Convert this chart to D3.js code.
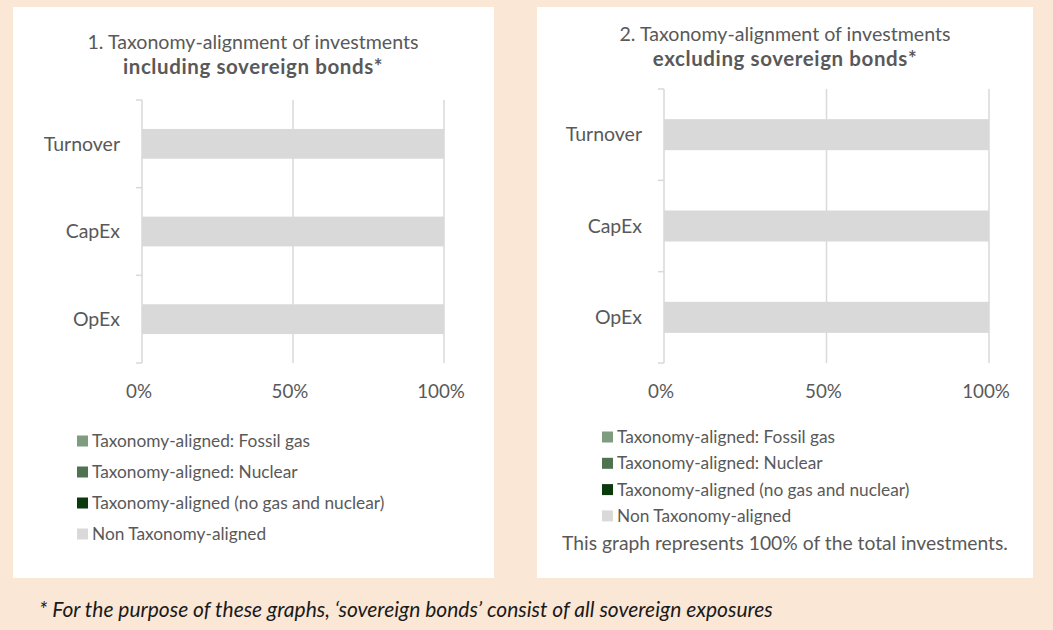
<!DOCTYPE html>
<html>
<head>
<meta charset="utf-8">
<script src="https://cdn.jsdelivr.net/npm/d3@7"></script>
<style>
  body { margin: 0; background: #fbe7d6; }
  svg { display: block; font-family: Lato, "Open Sans", sans-serif; }
</style>
</head>
<body>
<div id="chart"></div>
<script>
// categories and series (percent of investments)
const categories = ["Turnover", "CapEx", "OpEx"];
const seriesNames = ["Taxonomy-aligned (no gas and nuclear)", "Taxonomy-aligned: Fossil gas", "Taxonomy-aligned: Nuclear", "Non Taxonomy-aligned"];
const legendOrder = ["Taxonomy-aligned: Fossil gas", "Taxonomy-aligned: Nuclear", "Taxonomy-aligned (no gas and nuclear)", "Non Taxonomy-aligned"];
const colors = ["#0b3b0c", "#7f9b80", "#4f7351", "#d9d9d9"];

// chart 1: including sovereign bonds
const inclAligned = [0, 0, 0];
const inclFossil = [0, 0, 0];
const inclNuclear = [0, 0, 0];
const inclNon = [100, 100, 100];

// chart 2: excluding sovereign bonds
const exclAligned = [0, 0, 0];
const exclFossil = [0, 0, 0];
const exclNuclear = [0, 0, 0];
const exclNon = [100, 100, 100];

const xTicks = [0, 50, 100];

const W = 1053, H = 630;
const textColor = "#595959";
const gridColor = "#d9d9d9";

const svg = d3.select("#chart").append("svg")
    .attr("width", W)
    .attr("height", H);

svg.append("rect").attr("width", W).attr("height", H).attr("fill", "#fbe7d6");

const colorOf = d3.scaleOrdinal().domain(seriesNames).range(colors);

const buildRows = (aligned, fossil, nuclear, non) => categories.map((c, i) => ({
  cat: c,
  [seriesNames[0]]: aligned[i],
  [seriesNames[1]]: fossil[i],
  [seriesNames[2]]: nuclear[i],
  [seriesNames[3]]: non[i]
}));

const drawPanel = (opt) => {
  // white card
  svg.append("rect")
    .attr("x", opt.box[0]).attr("y", opt.box[1])
    .attr("width", opt.box[2]).attr("height", opt.box[3])
    .attr("fill", "#fff");

  // title
  const t = svg.append("text")
    .attr("text-anchor", "middle")
    .attr("fill", textColor)
    .attr("font-size", 19.6);
  t.append("tspan").attr("x", opt.titleX).attr("y", opt.titleY).text(opt.title1);
  t.append("tspan").attr("x", opt.titleX).attr("y", opt.titleY + 25)
    .attr("font-weight", "bold").attr("font-size", 20.5)
    .attr("letter-spacing", 0.6).text(opt.title2);

  const x = d3.scaleLinear().domain([0, 100]).range([opt.x0, opt.x1]);
  const y = d3.scaleBand().domain(categories)
      .range([opt.top, opt.bottom])
      .paddingInner(0.66).paddingOuter(0.33);

  const g = svg.append("g");

  // vertical gridlines
  g.selectAll(".grid")
    .data(xTicks.filter(d => d > 0))
    .enter().append("line")
      .attr("x1", d => x(d)).attr("x2", d => x(d))
      .attr("y1", opt.top).attr("y2", opt.bottom)
      .attr("stroke", gridColor).attr("stroke-width", 1.5);

  // stacked bars
  const stack = d3.stack().keys(seriesNames);
  const layers = stack(opt.rows);
  g.selectAll(".layer")
    .data(layers)
    .enter().append("g")
      .attr("fill", d => colorOf(d.key))
    .selectAll("rect")
    .data(d => d)
    .enter().append("rect")
      .attr("x", d => x(d[0]))
      .attr("y", d => y(d.data.cat))
      .attr("width", d => x(d[1]) - x(d[0]))
      .attr("height", y.bandwidth());

  // category axis line with ticks between categories
  g.append("line")
    .attr("x1", x(0)).attr("x2", x(0))
    .attr("y1", opt.top).attr("y2", opt.bottom)
    .attr("stroke", gridColor).attr("stroke-width", 1.5);
  g.selectAll(".ctick")
    .data(d3.range(categories.length + 1))
    .enter().append("line")
      .attr("x1", x(0) - 6).attr("x2", x(0))
      .attr("y1", i => opt.top + i * y.step())
      .attr("y2", i => opt.top + i * y.step())
      .attr("stroke", gridColor).attr("stroke-width", 1.5);

  // category labels
  g.selectAll(".clabel")
    .data(categories)
    .enter().append("text")
      .attr("x", x(0) - 22)
      .attr("y", d => y(d) + y.bandwidth() / 2)
      .attr("dy", "0.35em")
      .attr("text-anchor", "end")
      .attr("fill", textColor)
      .attr("font-size", 19.5)
      .text(d => d);

  // value axis labels
  g.selectAll(".xlabel")
    .data(xTicks)
    .enter().append("text")
      .attr("x", d => x(d) - 3)
      .attr("y", opt.bottom + 28)
      .attr("dy", "0.35em")
      .attr("text-anchor", "middle")
      .attr("fill", textColor)
      .attr("font-size", 18.8)
      .text(d => d + "%");

  // legend
  const lg = svg.append("g");
  legendOrder.forEach((name, i) => {
    const ly = opt.legendY + i * opt.legendStep;
    lg.append("rect")
      .attr("x", opt.legendX).attr("y", ly - 5.5)
      .attr("width", 11).attr("height", 11)
      .attr("fill", colorOf(name));
    lg.append("text")
      .attr("x", opt.legendX + 15).attr("y", ly)
      .attr("dy", "0.35em")
      .attr("fill", textColor)
      .attr("font-size", 17.3)
      .text(name);
  });
};

drawPanel({
  box: [13, 7, 481, 571],
  title1: "1. Taxonomy-alignment of investments",
  title2: "including sovereign bonds*",
  titleX: 253, titleY: 49,
  x0: 142, x1: 444, top: 100, bottom: 363,
  rows: buildRows(inclAligned, inclFossil, inclNuclear, inclNon),
  legendX: 77, legendY: 441, legendStep: 31
});

drawPanel({
  box: [537, 7, 496, 571],
  title1: "2. Taxonomy-alignment of investments",
  title2: "excluding sovereign bonds*",
  titleX: 785, titleY: 41,
  x0: 664, x1: 989, top: 89, bottom: 363,
  rows: buildRows(exclAligned, exclFossil, exclNuclear, exclNon),
  legendX: 602, legendY: 437, legendStep: 26.3
});

svg.append("text")
  .attr("x", 785).attr("y", 543)
  .attr("dy", "0.35em")
  .attr("text-anchor", "middle")
  .attr("fill", textColor)
  .attr("font-size", 19.3)
  .text("This graph represents 100% of the total investments.");

svg.append("text")
  .attr("x", 39).attr("y", 610)
  .attr("dy", "0.35em")
  .attr("fill", "#1a1a1a")
  .attr("font-size", 21)
  .attr("font-style", "italic")
  .text("* For the purpose of these graphs, \u2018sovereign bonds\u2019 consist of all sovereign exposures");
</script>
</body>
</html>
